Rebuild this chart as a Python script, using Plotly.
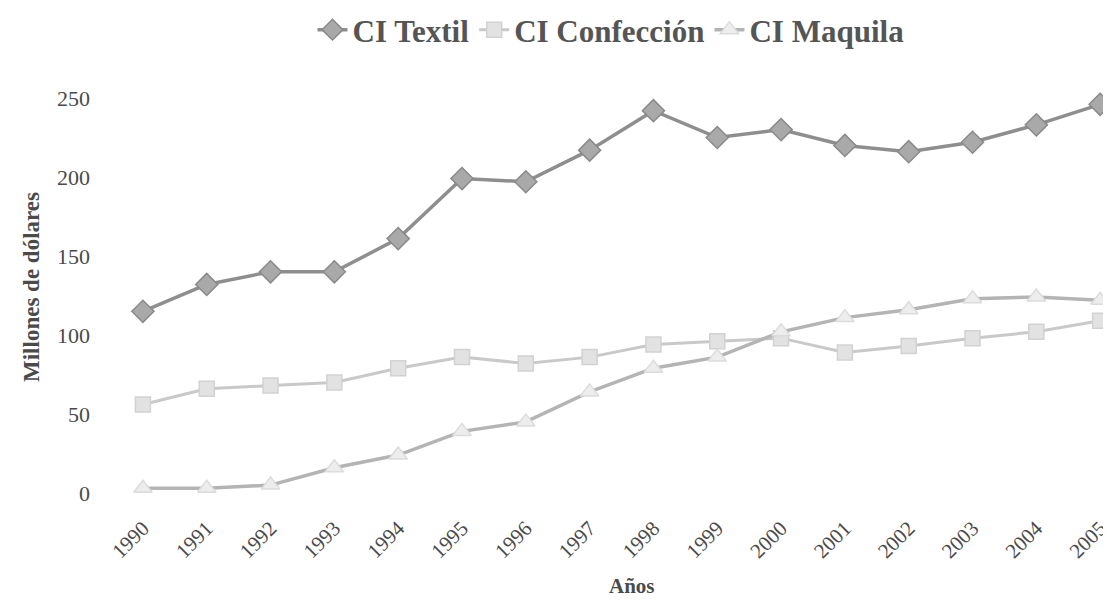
import plotly.graph_objects as go

YEARS = [str(y) for y in range(1990, 2006)]
CI_TEXTIL = [115, 132, 140, 140, 161, 199, 197, 217, 242, 225, 230, 220, 216, 222, 233, 246]
CI_CONFECCION = [56, 66, 68, 70, 79, 86, 82, 86, 94, 96, 98, 89, 93, 98, 102, 109]
CI_MAQUILA = [3, 3, 5, 16, 24, 39, 45, 64, 79, 86, 102, 111, 116, 123, 124, 122]

SERIF = "Liberation Serif, Times New Roman, serif"
INK = "#4a4a4a"

STYLES = [
    ("CI Textil", CI_TEXTIL, dict(color="#8e8e8e", width=3.5),
     dict(symbol="diamond", size=17, color="#a9a9a9", line=dict(color="#8a8a8a", width=1.5))),
    ("CI Confección", CI_CONFECCION, dict(color="#c9c9c9", width=3),
     dict(symbol="square", size=15, color="#e2e2e2", line=dict(color="#d2d2d2", width=1.5))),
    ("CI Maquila", CI_MAQUILA, dict(color="#b4b4b4", width=3.5),
     dict(symbol="triangle-up", size=16, color="#ededed", line=dict(color="#dcdcdc", width=1.5))),
]

fig = go.Figure()
for name, vals, line, marker in STYLES:
    fig.add_trace(go.Scatter(x=YEARS, y=vals, name=name, mode="lines+markers",
                             line=line, marker=marker))

# la página tiene 8px de margen: el lienzo se reduce para que quepa
W, H = 1103, 593
fig.update_layout(
    width=W, height=H,
    paper_bgcolor="white", plot_bgcolor="white",
    font=dict(family=SERIF, color=INK, size=18),
    margin=dict(l=103, r=0, t=72, b=96),
    legend=dict(orientation="h", x=0.5, xanchor="center", y=1 - 22 / H, yanchor="middle",
                yref="container",
                font=dict(family=SERIF, size=31, color="#555555", weight="bold"),
                itemwidth=30, bgcolor="rgba(0,0,0,0)"),
    xaxis=dict(type="category", range=[-0.5, 15.17], tickangle=-45, automargin=False,
               tickfont=dict(family=SERIF, size=21, color=INK), ticklabelstandoff=6,
               showgrid=False, showline=False, zeroline=False, ticks=""),
    yaxis=dict(range=[-7.6, 261.4], tickvals=[0, 50, 100, 150, 200, 250], automargin=False,
               tickfont=dict(family=SERIF, size=22, color=INK), ticklabelstandoff=20,
               showgrid=False, showline=False, zeroline=False, ticks=""),
    annotations=[
        dict(text="<b>Millones de dólares</b>", textangle=-90, showarrow=False,
             xref="paper", yref="paper", x=-79 / 1000, y=0.513,
             xanchor="center", yanchor="middle",
             font=dict(family=SERIF, size=23, color=INK)),
        dict(text="<b>Años</b>", showarrow=False,
             xref="paper", yref="paper", x=(632 - 111) / 1000, y=-(564 - 497) / 425,
             xanchor="center", yanchor="top",
             font=dict(family=SERIF, size=21, color=INK)),
    ],
)

fig.write_html("out.html")
